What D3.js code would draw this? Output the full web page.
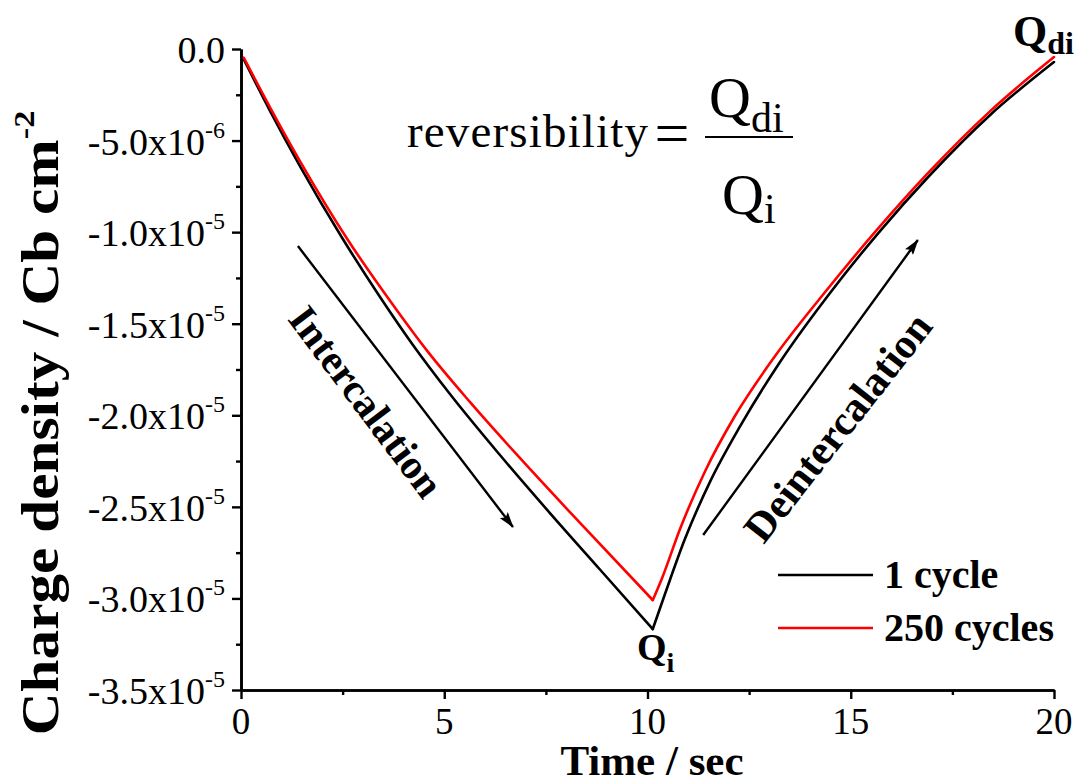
<!DOCTYPE html>
<html><head><meta charset="utf-8">
<script src="https://cdn.jsdelivr.net/npm/d3@7"></script>
<style>
body{margin:0;background:#fff}
svg{display:block}
text{font-family:"Liberation Serif","Times New Roman",serif;fill:#000}
</style>
</head><body>
<svg id="chart" width="1077" height="783"></svg>
<script>
// ---- data (time in s, charge density in Cb cm^-2) ----
const time1cycle = [0.05,0.71,1.45,2.49,3.42,4.23,5.14,6.37,7.60,8.83,10.13,10.43,10.92,11.54,12.28,13.26,14.49,15.72,16.95,18.43,20.00];
const charge1cycle = [-0.049e-5,-0.336e-5,-0.639e-5,-1.032e-5,-1.354e-5,-1.616e-5,-1.884e-5,-2.217e-5,-2.534e-5,-2.842e-5,-3.167e-5,-2.976e-5,-2.676e-5,-2.362e-5,-2.059e-5,-1.709e-5,-1.332e-5,-0.994e-5,-0.688e-5,-0.360e-5,-0.071e-5];
const time250cycles = [0.07,0.71,1.45,2.63,3.67,4.60,5.63,6.86,8.34,10.13,10.36,10.80,11.42,12.15,13.14,14.37,15.60,16.95,18.43,20.00];
const charge250cycles = [-0.049e-5,-0.317e-5,-0.612e-5,-1.043e-5,-1.376e-5,-1.654e-5,-1.927e-5,-2.233e-5,-2.588e-5,-3.009e-5,-2.888e-5,-2.621e-5,-2.304e-5,-2.004e-5,-1.676e-5,-1.327e-5,-0.999e-5,-0.666e-5,-0.339e-5,-0.044e-5];
const seriesNames = ["1 cycle","250 cycles"];
const seriesColors = ["#000000","#ff0000"];

const xTicks = [0,5,10,15,20];
const xMinorTicks = [2.5,7.5,12.5,17.5];
const xTickLabels = ["0","5","10","15","20"];
const yTicks = [0,-0.5e-5,-1.0e-5,-1.5e-5,-2.0e-5,-2.5e-5,-3.0e-5,-3.5e-5];
const yMinorTicks = [-0.25e-5,-0.75e-5,-1.25e-5,-1.75e-5,-2.25e-5,-2.75e-5,-3.25e-5];
const yTickMain = ["0.0","-5.0x10","-1.0x10","-1.5x10","-2.0x10","-2.5x10","-3.0x10","-3.5x10"];
const yTickSup = ["","-6","-5","-5","-5","-5","-5","-5"];

// ---- layout ----
const svg = d3.select("#chart");
const L = 241, T = 49, R = 1054, B = 690;
const x = d3.scaleLinear().domain([0,20]).range([L,R]);
const y = d3.scaleLinear().domain([0,-3.5e-5]).range([T,B]);

// axes
const xAxis = d3.axisBottom(x).tickValues(xTicks).tickSize(9).tickSizeOuter(0).tickFormat("");
const xAxisMinor = d3.axisBottom(x).tickValues(xMinorTicks).tickSize(5).tickSizeOuter(0).tickFormat("");
const yAxis = d3.axisLeft(y).tickValues(yTicks).tickSize(9).tickSizeOuter(0).tickFormat("");
const yAxisMinor = d3.axisLeft(y).tickValues(yMinorTicks).tickSize(5).tickSizeOuter(0).tickFormat("");

function styleAxis(g){
  g.selectAll("path.domain").attr("stroke","#000").attr("stroke-width",2.6);
  g.selectAll(".tick line").attr("stroke","#000").attr("stroke-width",2.4);
}
svg.append("g").attr("transform",`translate(0,${B})`).call(xAxisMinor).call(styleAxis);
svg.append("g").attr("transform",`translate(0,${B})`).call(xAxis).call(styleAxis);
svg.append("g").attr("transform",`translate(${L},0)`).call(yAxisMinor).call(styleAxis);
svg.append("g").attr("transform",`translate(${L},0)`).call(yAxis).call(styleAxis);

// x tick labels
svg.append("g").selectAll("text").data(xTicks).join("text")
  .attr("x",d=>x(d)).attr("y",B+44)
  .attr("text-anchor","middle").attr("font-size",37)
  .text((d,i)=>xTickLabels[i]);

// y tick labels
const yl = svg.append("g").selectAll("text").data(yTicks).join("text")
  .attr("x",225).attr("y",d=>y(d)+14)
  .attr("text-anchor","end").attr("font-size",38);
yl.append("tspan").text((d,i)=>yTickMain[i]);
yl.append("tspan").attr("font-size",24).attr("dy",-17).text((d,i)=>yTickSup[i]);

// axis titles
svg.append("text").attr("x",652).attr("y",775).attr("text-anchor","middle")
  .attr("font-size",43).attr("font-weight","bold").text("Time / sec");
const yt = svg.append("text").attr("transform","translate(58,423) rotate(-90) scale(1.14,1)")
  .attr("text-anchor","middle").attr("font-size",52).attr("font-weight","bold");
yt.append("tspan").text("Charge density / Cb cm");
yt.append("tspan").attr("font-size",30).attr("dy",-24).text("-2");

// curves: each series drawn as two smooth branches meeting at its minimum
const line = d3.line().x(d=>x(d[0])).y(d=>y(d[1])).curve(d3.curveMonotoneX);
function drawSeries(ts, vs, color){
  const pts = ts.map((t,i)=>[t,vs[i]]);
  const iMin = d3.minIndex(vs);
  const g = svg.append("g").attr("fill","none").attr("stroke",color)
    .attr("stroke-width",2.6).attr("stroke-linecap","round").attr("stroke-linejoin","round");
  g.append("path").attr("d",line(pts.slice(0,iMin+1)));
  g.append("path").attr("d",line(pts.slice(iMin)));
}
drawSeries(time1cycle, charge1cycle, seriesColors[0]);
drawSeries(time250cycles, charge250cycles, seriesColors[1]);

// legend
const legY = [575,628];
seriesNames.forEach((n,i)=>{
  svg.append("line").attr("x1",778).attr("x2",873).attr("y1",legY[i]).attr("y2",legY[i])
    .attr("stroke",seriesColors[i]).attr("stroke-width",2.6);
  svg.append("text").attr("x",884).attr("y",legY[i]+13).attr("font-size",40)
    .attr("font-weight","bold").text(n);
});

// arrows
const defs = svg.append("defs");
defs.append("marker").attr("id","ah").attr("viewBox","0 0 16 10").attr("refX",15).attr("refY",5)
  .attr("markerWidth",16).attr("markerHeight",10).attr("markerUnits","userSpaceOnUse")
  .attr("orient","auto").append("path").attr("d","M0,0 L16,5 L0,10 L3,5 Z").attr("fill","#000");
svg.append("line").attr("x1",x(1.40)).attr("y1",y(-1.076e-5)).attr("x2",x(6.69)).attr("y2",y(-2.61e-5))
  .attr("stroke","#000").attr("stroke-width",2.4).attr("marker-end","url(#ah)");
svg.append("line").attr("x1",x(11.37)).attr("y1",y(-2.654e-5)).attr("x2",x(16.65)).attr("y2",y(-1.043e-5))
  .attr("stroke","#000").attr("stroke-width",2.4).attr("marker-end","url(#ah)");

svg.append("text").attr("transform","translate(355,410) rotate(53)").attr("text-anchor","middle")
  .attr("font-size",41).attr("font-weight","bold").text("Intercalation");
svg.append("text").attr("transform","translate(849,436) rotate(-52)").attr("text-anchor","middle")
  .attr("font-size",42).attr("font-weight","bold").text("Deintercalation");

// Q labels
const qi = svg.append("text").attr("x",637).attr("y",660).attr("font-size",38).attr("font-weight","bold");
qi.append("tspan").text("Q");
qi.append("tspan").attr("font-size",28).attr("dy",12).text("i");
const qdi = svg.append("text").attr("x",1013).attr("y",46).attr("font-size",44).attr("font-weight","bold");
qdi.append("tspan").text("Q");
qdi.append("tspan").attr("font-size",32).attr("dy",8).text("di");

// formula
svg.append("text").attr("x",407).attr("y",147).attr("font-size",47)
  .attr("textLength",241).attr("lengthAdjust","spacing").text("reversibility");
svg.append("text").attr("x",672).attr("y",154).attr("text-anchor","middle").attr("font-size",62).text("=");
svg.append("line").attr("x1",705).attr("x2",793).attr("y1",137).attr("y2",137).attr("stroke","#000").attr("stroke-width",2);
const num = svg.append("text").attr("x",709).attr("y",117).attr("font-size",58);
num.append("tspan").text("Q");
num.append("tspan").attr("font-size",42).attr("dy",15).text("di");
const den = svg.append("text").attr("x",722).attr("y",214).attr("font-size",58);
den.append("tspan").text("Q");
den.append("tspan").attr("font-size",42).attr("dy",9).text("i");
</script>
</body></html>
